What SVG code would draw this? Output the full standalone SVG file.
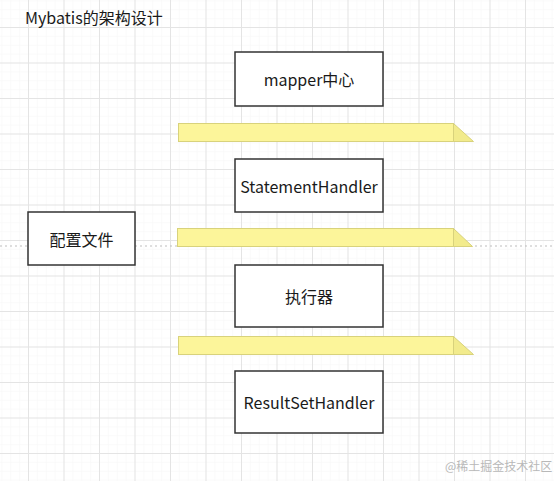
<svg xmlns="http://www.w3.org/2000/svg" width="554" height="481" viewBox="0 0 554 481">
  <style>
    .node rect { fill: #ffffff; stroke: #333333; stroke-width: 1.5; }
    .label { font-family: "Noto Sans CJK SC", "Noto Sans", sans-serif; font-size: 16px; fill: #1a1a1a; text-anchor: middle; dominant-baseline: central; }
    .bar .body { fill: #fcf59a; stroke: #d8d27c; stroke-width: 1; }
    .bar .tip { fill: #f2eb8c; stroke: #d8d27c; stroke-width: 1; }
    .title { font-family: "Noto Sans CJK SC", "Noto Sans", sans-serif; font-size: 16px; fill: #1a1a1a; }
    .wm { font-family: "Noto Sans CJK SC", sans-serif; font-size: 12px; fill: #b8b8b8; }
  </style>
  <defs>
    <pattern id="minor" x="28" y="27" width="8.875" height="8.875" patternUnits="userSpaceOnUse">
      <path d="M0 0 H8.875 M0 0 V8.875" fill="none" stroke="#f6f6f6" stroke-width="1"/>
    </pattern>
    <pattern id="major" x="28" y="27" width="35.5" height="35.5" patternUnits="userSpaceOnUse">
      <path d="M0 0.5 H35.5 M0.5 0 V35.5" fill="none" stroke="#e4e4e4" stroke-width="1"/>
    </pattern>
  </defs>
  <rect width="554" height="481" fill="#ffffff"/>
  <rect width="554" height="481" fill="url(#minor)"/>
  <rect width="554" height="481" fill="url(#major)"/>
  <line x1="0" y1="246" x2="554" y2="246" stroke="#bdbdbd" stroke-width="1" stroke-dasharray="2,3"/>

  <text class="title" x="25" y="24">Mybatis的架构设计</text>

  <g id="connectors">
    <g id="bar1" class="bar">
      <rect class="body" x="178.5" y="123.5" width="275" height="18"/>
      <polygon class="tip" points="453.5,123.5 473.5,141.5 453.5,141.5"/>
    </g>
    <g id="bar2" class="bar">
      <rect class="body" x="177.5" y="228.5" width="276" height="18"/>
      <polygon class="tip" points="453.5,228.5 472.5,246.5 453.5,246.5"/>
    </g>
    <g id="bar3" class="bar">
      <rect class="body" x="178.5" y="336.5" width="275" height="18"/>
      <polygon class="tip" points="453.5,336.5 473.5,354.5 453.5,354.5"/>
    </g>
  </g>

  <g id="config" class="node">
    <rect x="28" y="212" width="107" height="53"/>
    <text class="label" x="81.5" y="238.5">配置文件</text>
  </g>
  <g id="mapper" class="node">
    <rect x="235" y="52" width="148" height="54"/>
    <text class="label" x="309" y="79">mapper中心</text>
  </g>
  <g id="statement" class="node">
    <rect x="235" y="159" width="148" height="53"/>
    <text class="label" x="309" y="185.5">StatementHandler</text>
  </g>
  <g id="executor" class="node">
    <rect x="235" y="265" width="148" height="62"/>
    <text class="label" x="309" y="296">执行器</text>
  </g>
  <g id="resultset" class="node">
    <rect x="235" y="371" width="148" height="62"/>
    <text class="label" x="309" y="402">ResultSetHandler</text>
  </g>

  <text class="wm" x="445" y="471">@稀土掘金技术社区</text>
</svg>
